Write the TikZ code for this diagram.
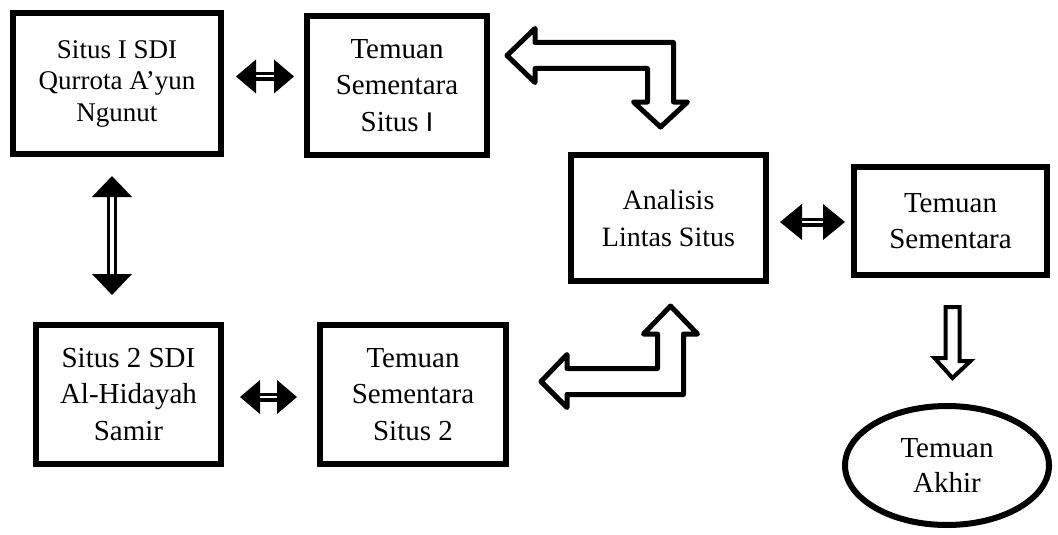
\documentclass[tikz,border=0pt]{standalone}
\usepackage{fontspec}
\setmainfont{Liberation Serif}
\newfontfamily\calibrifont{Carlito}
\usepackage{tikz}
\usetikzlibrary{shapes,arrows,positioning,calc,arrows.meta}

\begin{document}
\begin{tikzpicture}[x=1pt, y=-1pt,
    box/.style={draw, line width=6pt, align=center, inner sep=0pt,
        font=\fontsize{29}{36.5}\selectfont},
    oval/.style={box, ellipse},
    dblarrow/.style={double, double distance=2pt, line width=3.5pt,
        {Triangle[length=20pt, width=34pt, line width=0pt]}-{Triangle[length=20pt, width=34pt, line width=0pt]}},
    blockarrow/.style={draw, fill=white, line width=5pt, line join=round}]
    \useasboundingbox[fill=white] (0,0) rectangle (1058,535);

    % Boxes
    \node[box, minimum width=208pt, minimum height=141pt, font=\fontsize{27}{31.5}\selectfont] (s1) at (117,83.5) {Situs I SDI\\Qurrota A’yun\\Ngunut};
    \node[box, minimum width=180pt, minimum height=139pt] (t1) at (397,85.5) {Temuan\\Sementara\\Situs {\calibrifont I}};
    \node[box, minimum width=195pt, minimum height=126pt, font=\fontsize{28}{37}\selectfont] (an) at (668.5,218) {Analisis\\Lintas Situs};
    \node[box, minimum width=193pt, minimum height=108pt] (ts) at (950.5,221) {Temuan\\Sementara};
    \node[box, minimum width=185pt, minimum height=139pt] (s2) at (128.5,394.5) {Situs 2 SDI\\Al-Hidayah\\Samir};
    \node[box, minimum width=186pt, minimum height=139pt] (t2) at (413,394.5) {Temuan\\Sementara\\Situs 2};
    \node[oval, minimum width=204pt, minimum height=119pt, font=\fontsize{29}{35}\selectfont] (ta) at (947,465.5) {Temuan\\Akhir};

    % Double arrows
    \draw[dblarrow] ($(s1.east)+(12,-7)$) -- ($(t1.west)+(-10,-9)$);
    \draw[dblarrow, double distance=3.5pt, {Triangle[length=21pt, width=40pt, line width=0pt]}-{Triangle[length=21pt, width=40pt, line width=0pt]}]
        ($(s1.south)+(-5,19)$) -- ($(s1.south |- s2.north)+(-5,-27)$);
    \draw[dblarrow] ($(s2.east)+(16,2.5)$) -- ($(t2.west)+(-20,2.5)$);
    \draw[dblarrow, {Triangle[length=22pt, width=36pt, line width=0pt]}-{Triangle[length=22pt, width=36pt, line width=0pt]}]
        ($(an.east)+(11,4)$) -- ($(ts.west)+(-6,1)$);

    % Bent arrows
    \coordinate (A) at ($(t1.east)+(17,-30)$);
    \coordinate (B) at ($(an.north)+(-8,-25)$);
    \draw[blockarrow] (A) -- ++(28,-27) -- ++(0,14) -- ($(B |- A)+(13,-13)$) -- ($(B)+(13,-25)$) -- ++(14,0)
        -- (B) -- ++(-27,-25) -- ++(14,0) -- ($(B |- A)+(-13,13)$) -- ($(A)+(28,13)$) -- ++(0,14) -- cycle;
    \coordinate (U) at ($(an.south)+(2,22)$);
    \coordinate (L) at ($(t2.east)+(32,-13)$);
    \draw[blockarrow] (U) -- ++(27,28) -- ++(-14,0) -- ($(U |- L)+(13,13)$) -- ($(L)+(26,13)$) -- ++(0,13)
        -- (L) -- ++(26,-27) -- ++(0,14) -- ($(U |- L)+(-13,-13)$) -- ($(U)+(-13,28)$) -- ++(-14,0) -- cycle;

    % Down arrow
    \draw[blockarrow, line width=4pt, line join=miter] ($(ts.south)+(-5,29)$) -- ++(14,0) -- ++(0,54) -- ++(11,0)
        -- ($(ta.north)+(5.5,-25)$) -- ++(-18,-20) -- ++(11,0) -- cycle;
\end{tikzpicture}
\end{document}
